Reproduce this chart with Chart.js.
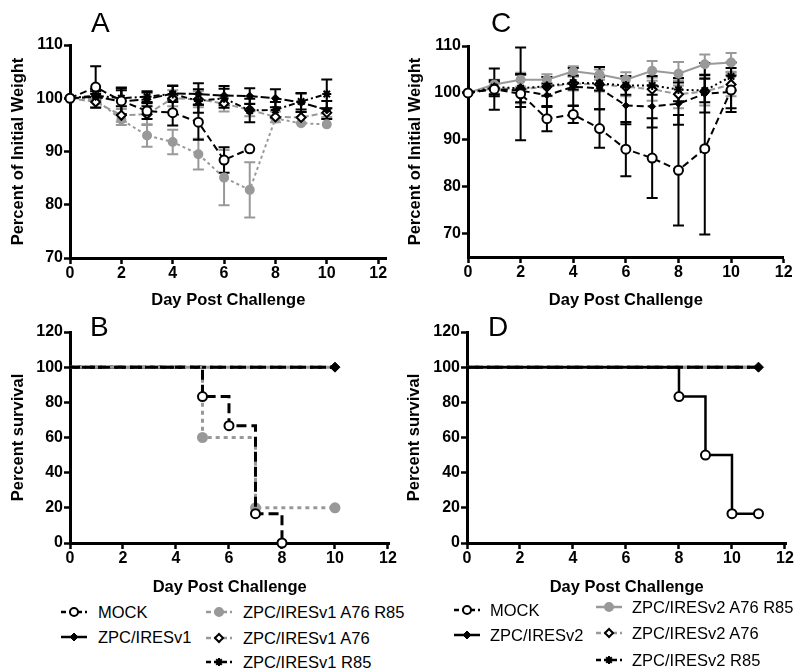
<!DOCTYPE html>
<html>
<head>
<meta charset="utf-8">
<script src="https://cdn.jsdelivr.net/npm/chart.js@4.4.0/dist/chart.umd.min.js"></script>
<style>
  body { margin: 0; background: #fff; font-family: "Liberation Sans", Arial, sans-serif; }
  #wrap { position: relative; width: 798px; height: 670px; overflow: hidden; background: #fff; }
  canvas.panel { position: absolute; }
  .letter { position: absolute; font-size: 28px; line-height: 1; color: #000; }
  .sw { position: absolute; }
  .lt { position: absolute; font-size: 16.5px; line-height: 18px; color: #000; white-space: nowrap; }
</style>
</head>
<body>
<div id="wrap">
  <canvas id="cA" class="panel" style="left:0;top:0;width:400px;height:310px" width="400" height="310"></canvas>
  <canvas id="cC" class="panel" style="left:398px;top:0;width:400px;height:310px" width="400" height="310"></canvas>
  <canvas id="cB" class="panel" style="left:0;top:310px;width:400px;height:290px" width="400" height="290"></canvas>
  <canvas id="cD" class="panel" style="left:398px;top:310px;width:400px;height:290px" width="400" height="290"></canvas>
  <div class="letter" style="left:91px;top:9px">A</div>
  <div class="letter" style="left:491px;top:9px">C</div>
  <div class="letter" style="left:90px;top:313px">B</div>
  <div class="letter" style="left:488px;top:313px">D</div>
  <div id="legend"></div>
</div>
<script>
const FONT = '"Liberation Sans", Arial, sans-serif';
const GREY = '#999999';
const BLACK = '#000000';

// weight curves, days 0-10
const days = [0, 1, 2, 3, 4, 5, 6, 7, 8, 9, 10];

// panel A (v1)
const mockA = [100, 102.1, 99.5, 97.6, 97.3, 95.5, 88.4, 90.5];
const mockASd = [0, 3.9, 2.5, 1.5, 2.4, 3.3, 2.4, 0];
const iresA = [100, 100.3, 99.4, 99.8, 100.9, 100.8, 100.5, 100.4, 100, 99.2, 97.8];
const iresASd = [0, 0.5, 2.5, 1.3, 1.5, 2, 1.8, 1.5, 1.7, 1.8, 1.7];
const a76r85A = [100, 99.8, 96, 93, 91.8, 89.5, 85.1, 82.8, 96.2, 95.3, 95.1];
const a76r85ASd = [0, 1.5, 1, 2.1, 2.3, 2.9, 5.2, 5.2, 0, 0, 0];
const a76A = [100, 99.3, 96.8, 97, 100, 99.8, 99, 97.8, 96.5, 96.4, 97.3];
const a76ASd = [0, 1, 1.2, 2, 1.5, 1.5, 1.5, 1.2, 1, 1, 0.8];
const r85A = [100, 100.5, 100, 100.3, 100.8, 99.5, 100, 97.7, 97.8, 99.4, 100.8];
const r85ASd = [0, 0.8, 1.5, 1, 1.5, 2.2, 1.8, 2.2, 1.5, 1.5, 2.7];

// panel C (v2)
const mockC = [100, 100.8, 99.8, 94.5, 95.4, 92.4, 88, 86.1, 83.5, 88.1, 100.6];
const mockCSd = [0, 4.4, 9.9, 2.7, 1.8, 4.1, 5.8, 8.5, 11.8, 18.3, 4.7];
const iresC = [100, 100.8, 100.5, 99.5, 101.3, 101, 97.3, 97.1, 97.7, 99.8, 100.2];
const iresCSd = [0, 1.5, 3.5, 2.5, 4, 4.5, 4, 4.5, 4.5, 4, 3.5];
const a76r85C = [100, 101.8, 102.8, 102.8, 104.6, 103.9, 102.8, 104.7, 104.1, 106.1, 106.5];
const a76r85CSd = [0, 1, 1.5, 1.2, 1.1, 1.1, 1.6, 2.1, 2.5, 2.1, 2];
const a76C = [100, 101, 100.8, 101.3, 102, 101.8, 101.3, 100.8, 99.7, 100.3, 101.8];
const a76CSd = [0, 1.5, 3, 2, 1.5, 1.5, 2, 2.5, 3, 3, 2.5];
const r85C = [100, 101.2, 101, 101.4, 102.2, 102, 101.6, 101.6, 100.7, 100.5, 103.5];
const r85CSd = [0, 1.5, 3, 2, 1.5, 1.5, 2, 2, 2.5, 2.5, 3];

// survival, panel B
const survMockBDays = [0, 5, 6, 7, 8];
const survMockB = [100, 83.3, 66.7, 16.7, 0];
const survA76r85BDays = [0, 5, 7, 10];
const survA76r85B = [100, 60, 20, 20];
const survFlatBDays = [0, 10];
const survFlatB = [100, 100];

// survival, panel D
const survMockDDays = [0, 8, 9, 10, 11];
const survMockD = [100, 83.3, 50, 16.7, 16.7];
const survFlatDDays = [0, 11];
const survFlatD = [100, 100];

const xTicks = [0, 2, 4, 6, 8, 10, 12];

function pts(xs, ys) { return ys.map((y, i) => ({ x: xs[i], y: y })); }

const errorBars = {
  id: 'errorBars',
  beforeDatasetsDraw(chart) {
    const ctx = chart.ctx;
    const ys = chart.scales.y;
    for (let i = chart.data.datasets.length - 1; i >= 0; i--) {
      const ds = chart.data.datasets[i];
      if (!ds.sd) continue;
      const meta = chart.getDatasetMeta(i);
      ctx.save();
      ctx.strokeStyle = ds.borderColor;
      ctx.lineWidth = 2;
      meta.data.forEach((pt, j) => {
        const s = ds.sd[j];
        if (!s) return;
        const v = ds.data[j].y;
        const top = ys.getPixelForValue(v + s), bot = ys.getPixelForValue(v - s);
        ctx.beginPath();
        ctx.moveTo(pt.x, top); ctx.lineTo(pt.x, bot);
        ctx.moveTo(pt.x - 5.5, top); ctx.lineTo(pt.x + 5.5, top);
        ctx.moveTo(pt.x - 5.5, bot); ctx.lineTo(pt.x + 5.5, bot);
        ctx.stroke();
      });
      ctx.restore();
    }
  }
};

function options(o) {
  return {
    responsive: false,
    animation: false,
    devicePixelRatio: 1,
    layout: { padding: { top: o.padTop, right: o.padRight, left: 0, bottom: 0 } },
    plugins: { legend: { display: false }, tooltip: { enabled: false } },
    scales: {
      x: {
        type: 'linear', min: 0, max: o.xMax,
        afterBuildTicks: s => { s.ticks = xTicks.map(v => ({ value: v })); },
        ticks: { color: BLACK, padding: 0, maxRotation: 0, font: { family: FONT, size: 16, weight: 'bold' } },
        grid: { drawOnChartArea: false, drawTicks: true, tickLength: 6, tickWidth: 2.5, tickColor: BLACK },
        border: { display: true, color: BLACK, width: 3 },
        title: { display: true, text: 'Day Post Challenge', color: BLACK, padding: { top: 0, bottom: o.xTitlePad },
          font: { family: FONT, size: 16.5, weight: 'bold' } },
        afterFit: s => { s.height = o.xHeight; }
      },
      y: {
        type: 'linear', min: o.yMin, max: o.yMax,
        afterBuildTicks: s => { s.ticks = o.yTicks.map(v => ({ value: v })); },
        ticks: { color: BLACK, padding: 1, font: { family: FONT, size: 16, weight: 'bold' } },
        grid: { drawOnChartArea: false, drawTicks: true, tickLength: 6, tickWidth: 2.5, tickColor: BLACK },
        border: { display: true, color: BLACK, width: 3 },
        title: { display: true, text: o.yTitle, color: BLACK, padding: { top: o.yTitlePad, bottom: 0 },
          font: { family: FONT, size: 16.5, weight: 'bold' } },
        afterFit: s => { s.width = o.yWidth; }
      }
    }
  };
}

function series(label, data, sd, st) {
  return Object.assign({
    label: label, data: data, sd: sd, clip: false, tension: 0, fill: false,
    borderWidth: 2, pointBorderWidth: 2, pointHoverRadius: 0
  }, st);
}

// styles
const stMock = { borderColor: BLACK, borderDash: [7, 4], pointStyle: 'circle', pointRadius: 4.5,
  pointBackgroundColor: '#fff', pointBorderColor: BLACK };
const stIres = { borderColor: BLACK, borderDash: [9, 3], pointStyle: 'rectRot', pointRadius: 4,
  pointBackgroundColor: BLACK, pointBorderColor: BLACK, pointBorderWidth: 1 };
const stA76r85v1 = { borderColor: GREY, borderDash: [3, 3], pointStyle: 'circle', pointRadius: 4,
  pointBackgroundColor: GREY, pointBorderColor: GREY };
const stA76r85v2 = { borderColor: GREY, borderDash: [], pointStyle: 'circle', pointRadius: 4,
  pointBackgroundColor: GREY, pointBorderColor: GREY };
const stA76 = { borderColor: GREY, borderDash: [6, 3], pointStyle: 'rectRot', pointRadius: 4.5,
  pointBackgroundColor: '#fff', pointBorderColor: BLACK };
const stR85 = { borderColor: BLACK, borderDash: [6, 3, 2, 3], pointStyle: 'star', pointRadius: 4.5,
  pointBackgroundColor: BLACK, pointBorderColor: BLACK };
const stIresC = Object.assign({}, stIres, { borderDash: [7, 4], pointRadius: 3.5 });
const stR85C = Object.assign({}, stR85, { borderDash: [2, 3] });

new Chart(document.getElementById('cA'), {
  type: 'line',
  data: { datasets: [
    series('MOCK', pts(days, mockA), mockASd, stMock),
    series('ZPC/IRESv1', pts(days, iresA), iresASd, stIres),
    series('ZPC/IRESv1 R85', pts(days, r85A), r85ASd, stR85),
    series('ZPC/IRESv1 A76', pts(days, a76A), a76ASd, stA76),
    series('ZPC/IRESv1 A76 R85', pts(days, a76r85A), a76r85ASd, stA76r85v1)
  ] },
  options: options({ padTop: 45, padRight: 13.4, xMax: 12.33, xHeight: 52, xTitlePad: 0,
    yMin: 70, yMax: 110, yTicks: [70, 80, 90, 100, 110], yWidth: 70, yTitlePad: 9,
    yTitle: 'Percent of Initial Weight' }),
  plugins: [errorBars]
});

new Chart(document.getElementById('cC'), {
  type: 'line',
  data: { datasets: [
    series('MOCK', pts(days, mockC), mockCSd, stMock),
    series('ZPC/IRESv2', pts(days, iresC), iresCSd, stIresC),
    series('ZPC/IRESv2 R85', pts(days, r85C), r85CSd, stR85C),
    series('ZPC/IRESv2 A76', pts(days, a76C), a76CSd, stA76),
    series('ZPC/IRESv2 A76 R85', pts(days, a76r85C), a76r85CSd, stA76r85v2)
  ] },
  options: options({ padTop: 46, padRight: 14.3, xMax: 12, xHeight: 53, xTitlePad: 0,
    yMin: 65, yMax: 110, yTicks: [70, 80, 90, 100, 110], yWidth: 70, yTitlePad: 7.5,
    yTitle: 'Percent of Initial Weight' }),
  plugins: [errorBars]
});

function surv(label, xs, ys, st, radii) {
  return Object.assign({ label: label, data: pts(xs, ys), clip: false, stepped: true, fill: false,
    borderWidth: 3, pointBorderWidth: 2, pointHoverRadius: 0 }, st, { pointRadius: radii });
}

const survOpts = (padRight, xMax, yWidth, yTitlePad) => options({ padTop: 22, padRight: padRight, xMax: xMax,
  xHeight: 57, xTitlePad: 3, yMin: 0, yMax: 120, yTicks: [0, 20, 40, 60, 80, 100, 120],
  yWidth: yWidth, yTitlePad: yTitlePad, yTitle: 'Percent survival' });

new Chart(document.getElementById('cB'), {
  type: 'line',
  data: { datasets: [
    surv('MOCK', survMockBDays, survMockB, Object.assign({}, stMock, { borderDash: [10, 5] }), [0, 4.5, 4.5, 4.5, 4.5]),
    surv('ZPC/IRESv1 A76 R85', survA76r85BDays, survA76r85B, Object.assign({}, stA76r85v1, { borderDash: [4, 4] }), [0, 4.5, 4.5, 4.5]),
    surv('ZPC/IRESv1', survFlatBDays, survFlatB, Object.assign({}, stIres, { borderDash: [12, 8] }), [0, 5]),
    surv('ZPC/IRESv1 R85', survFlatBDays, survFlatB, Object.assign({}, stR85, { borderDash: [3, 5, 8, 4] }), [0, 0]),
    surv('ZPC/IRESv1 A76', survFlatBDays, survFlatB, Object.assign({}, stA76, { borderDash: [] }), [0, 0])
  ] },
  options: survOpts(10.7, 12.05, 70, 9)
});

new Chart(document.getElementById('cD'), {
  type: 'line',
  data: { datasets: [
    surv('MOCK', survMockDDays, survMockD, Object.assign({}, stMock, { borderDash: [], borderWidth: 2.5 }), [0, 4.5, 4.5, 4.5, 4.5]),
    surv('ZPC/IRESv2', survFlatDDays, survFlatD, Object.assign({}, stIres, { borderDash: [12, 8] }), [0, 5]),
    surv('ZPC/IRESv2 R85', survFlatDDays, survFlatD, Object.assign({}, stR85, { borderDash: [3, 5, 8, 4] }), [0, 0]),
    surv('ZPC/IRESv2 A76', survFlatDDays, survFlatD, Object.assign({}, stA76, { borderDash: [] }), [0, 0]),
    surv('ZPC/IRESv2 A76 R85', survFlatDDays, survFlatD, Object.assign({}, stA76r85v2), [0, 0])
  ] },
  options: survOpts(11.7, 12.05, 69, 6.5)
});

// legends
const legendItems = [
  { text: 'MOCK', st: stMock, sx: 60, tx: 98, y: 612 },
  { text: 'ZPC/IRESv1', st: Object.assign({}, stIres, { borderDash: [] }), sx: 60, tx: 98, y: 637 },
  { text: 'ZPC/IRESv1 A76 R85', st: stA76r85v1, sx: 205, tx: 243, y: 612 },
  { text: 'ZPC/IRESv1 A76', st: stA76, sx: 205, tx: 243, y: 638 },
  { text: 'ZPC/IRESv1 R85', st: stR85, sx: 205, tx: 243, y: 662 },
  { text: 'MOCK', st: stMock, sx: 453, tx: 490, y: 610 },
  { text: 'ZPC/IRESv2', st: Object.assign({}, stIres, { borderDash: [] }), sx: 453, tx: 490, y: 635 },
  { text: 'ZPC/IRESv2 A76 R85', st: stA76r85v2, sx: 595, tx: 632, y: 607 },
  { text: 'ZPC/IRESv2 A76', st: stA76, sx: 595, tx: 632, y: 633 },
  { text: 'ZPC/IRESv2 R85', st: stR85, sx: 595, tx: 632, y: 660 }
];

const legendEl = document.getElementById('legend');
legendItems.forEach(it => {
  const c = document.createElement('canvas');
  c.className = 'sw';
  c.width = 28; c.height = 16;
  c.style.left = it.sx + 'px';
  c.style.top = (it.y - 8) + 'px';
  legendEl.appendChild(c);
  const ctx = c.getContext('2d');
  ctx.strokeStyle = it.st.borderColor;
  ctx.lineWidth = 2.5;
  ctx.setLineDash(it.st.borderDash && it.st.borderDash.length ? [5, 3] : []);
  ctx.beginPath(); ctx.moveTo(1, 8); ctx.lineTo(27, 8); ctx.stroke();
  ctx.setLineDash([]);
  ctx.fillStyle = it.st.pointBackgroundColor;
  ctx.strokeStyle = it.st.pointBorderColor;
  ctx.lineWidth = it.st.pointBorderWidth || 2;
  Chart.helpers.drawPoint(ctx, { pointStyle: it.st.pointStyle, radius: Math.min(it.st.pointRadius, 4), rotation: 0,
    borderWidth: ctx.lineWidth }, 14, 8);
  const t = document.createElement('div');
  t.className = 'lt';
  t.style.left = it.tx + 'px';
  t.style.top = (it.y - 9) + 'px';
  t.textContent = it.text;
  legendEl.appendChild(t);
});
</script>
</body>
</html>
